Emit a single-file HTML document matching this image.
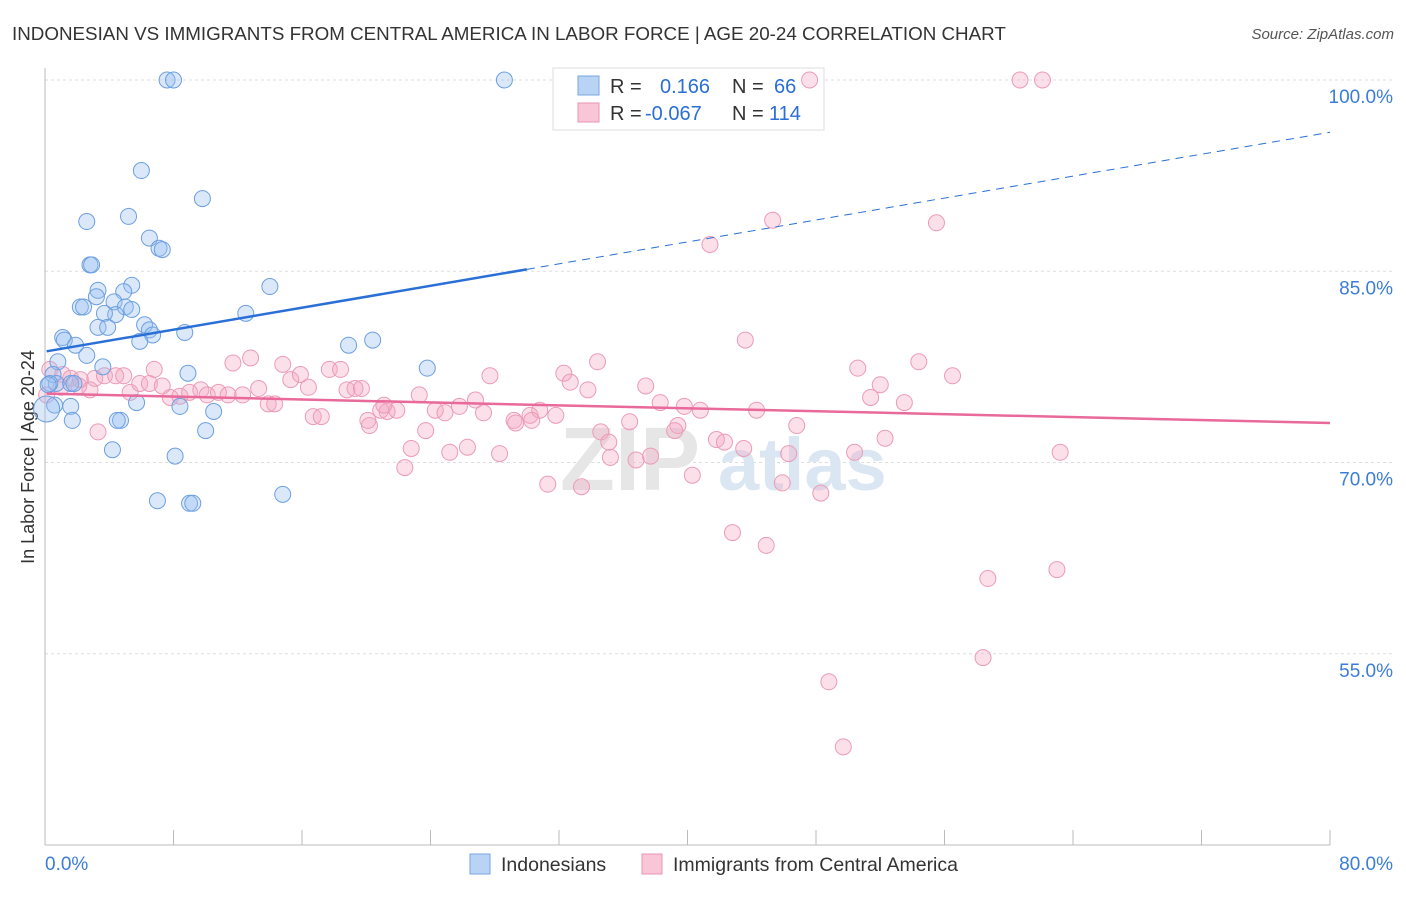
<!DOCTYPE html>
<html><head><meta charset="utf-8"><style>
body{margin:0;background:#fff;font-family:"Liberation Sans",sans-serif}
svg text{font-family:"Liberation Sans",sans-serif}
</style></head><body>
<svg id="chart" width="1406" height="892">
<text x="12" y="40" font-size="18.8" fill="#333">INDONESIAN VS IMMIGRANTS FROM CENTRAL AMERICA IN LABOR FORCE | AGE 20-24 CORRELATION CHART</text>
<text x="1394" y="39" font-size="15" fill="#555" text-anchor="end" font-style="italic">Source: ZipAtlas.com</text>
<text transform="translate(34,457) rotate(-90)" font-size="18" fill="#333" text-anchor="middle">In Labor Force | Age 20-24</text>
<g id="grid"></g>
<text x="560" y="490" font-size="90" fill="#e6e6e6" font-family="Liberation Serif" font-weight="bold">ZIP</text>
<text x="718" y="490" font-size="74" fill="#dbe6f3" font-weight="bold">atlas</text>
<g>
<rect x="553" y="68" width="271" height="62" fill="#fff" stroke="#ddd"/>
<rect x="578" y="76" width="21" height="19" fill="#b8d3f4" stroke="#7aa7e0"/>
<rect x="578" y="103" width="21" height="19" fill="#f8c6d6" stroke="#eb94b0"/>
<text x="610" y="93" font-size="20" fill="#333">R = <tspan fill="#2a6fd6" x="660">0.166</tspan><tspan x="732" fill="#333">N = </tspan><tspan fill="#2a6fd6" x="774">66</tspan></text>
<text x="610" y="120" font-size="20" fill="#333">R = <tspan fill="#2a6fd6" x="645">-0.067</tspan><tspan x="732" fill="#333">N = </tspan><tspan fill="#2a6fd6" x="769">114</tspan></text>
</g>
<g id="marks"></g>
<g>
<rect x="470" y="854" width="20" height="20" fill="#b8d3f4" stroke="#7aa7e0"/>
<text x="501" y="871" font-size="19.5" fill="#333">Indonesians</text>
<rect x="642" y="854" width="20" height="20" fill="#f8c6d6" stroke="#eb94b0"/>
<text x="673" y="871" font-size="19.5" fill="#333">Immigrants from Central America</text>
</g>
</svg>
<script>
const yTicks=[100,85,70,55];
const xLabels=["0.0%","80.0%"];
const blueX=[7.6,8.0,28.6,6.0,9.8,2.6,5.2,6.5,7.1,7.3,2.8,2.9,14.0,5.4,3.3,4.9,3.2,2.2,2.4,4.3,5.0,5.4,4.4,3.7,12.5,3.3,3.9,6.2,6.5,6.7,8.7,1.1,1.2,1.9,5.9,18.9,20.4,2.6,0.8,3.6,8.9,23.8,0.5,0.7,1.6,0.3,0.2,1.8,1.6,0.6,5.7,8.4,10.5,1.7,4.7,4.5,10.0,4.2,8.1,7.0,9.0,9.2,14.8,0.1];
const blueY=[100,100,100,92.9,90.7,88.9,89.3,87.6,86.8,86.7,85.5,85.5,83.8,83.9,83.5,83.4,83.0,82.2,82.2,82.6,82.2,82.0,81.6,81.7,81.7,80.6,80.6,80.8,80.4,80.0,80.2,79.8,79.6,79.2,79.5,79.2,79.6,78.4,77.9,77.5,77.0,77.4,76.9,76.2,76.2,76.2,76.1,76.2,74.4,74.5,74.7,74.4,74.0,73.3,73.3,73.3,72.5,71.0,70.5,67.0,66.8,66.8,67.5,74.2];
const pinkX=[47.6,60.7,62.1,45.3,55.5,41.4,43.6,34.4,54.4,56.5,50.6,32.3,27.7,32.7,37.4,52.0,33.8,51.4,53.5,38.3,44.3,39.8,40.8,26.8,25.8,23.3,24.3,24.9,21.3,21.9,20.2,23.7,27.3,29.2,30.2,30.8,31.8,29.3,30.3,36.4,39.4,41.8,42.3,46.8,52.3,34.6,35.1,39.2,35.2,36.8,37.7,43.5,46.3,50.4,63.2,28.3,26.3,25.2,22.8,22.4,31.3,33.4,40.3,45.9,48.3,42.8,44.9,58.7,63.0,58.4,48.8,49.7,0.3,1.1,1.6,2.2,3.1,3.7,4.4,4.9,2.8,3.3,5.3,5.9,6.5,6.8,7.3,7.8,8.4,9.0,9.7,10.1,10.8,11.4,11.7,12.3,12.8,13.3,13.9,14.3,14.8,15.3,15.9,16.4,16.7,17.2,17.7,18.4,18.8,19.3,19.7,20.1,20.9,21.1,1.0,0.1,2.1];
const pinkY=[100,100,100,89.0,88.8,87.1,79.6,77.9,77.9,76.8,77.4,77.0,76.8,76.3,76.0,76.1,75.7,75.1,74.7,74.7,74.1,74.4,74.1,74.9,74.4,75.3,74.1,73.9,74.0,74.1,72.9,72.5,73.9,73.3,73.7,74.1,73.7,73.1,73.3,73.2,72.9,71.8,71.6,72.9,71.9,72.4,71.6,72.5,70.4,70.2,70.5,71.1,70.7,70.8,70.8,70.7,71.2,70.8,71.1,69.6,68.3,68.1,69.0,68.4,67.6,64.5,63.5,60.9,61.6,54.7,52.8,47.7,77.3,76.9,76.6,76.5,76.6,76.8,76.8,76.8,75.7,72.4,75.5,76.2,76.2,77.3,76.0,75.1,75.2,75.5,75.7,75.3,75.5,75.3,77.8,75.3,78.2,75.8,74.6,74.6,77.7,76.5,76.9,75.9,73.6,73.6,77.3,77.3,75.7,75.8,75.8,73.3,74.1,74.5,75.9,75.3,76.0];
const blueTrend=[78.7,95.9];
const pinkTrend=[75.4,73.1];
const X=v=>45+v*(1285/80);
const Y=v=>80+(100-v)*12.75;
const NS="http://www.w3.org/2000/svg";
function mk(t,a,p){const e=document.createElementNS(NS,t);for(const k in a)e.setAttribute(k,a[k]);p.appendChild(e);return e;}
const grid=document.getElementById('grid');
yTicks.forEach(t=>{
 const l=mk('line',{x1:45,x2:1394,y1:Y(t),y2:Y(t),stroke:'#ddd','stroke-dasharray':'3,3'},grid);
 
 
 const tx=mk('text',{x:1393,y:Y(t)+23,'font-size':19,fill:'#3b7dd8','text-anchor':'end'},grid);
 tx.textContent=t.toFixed(1)+'%';
 
 
});
const ax=mk('line',{x1:45,x2:1330,y1:845,y2:845,stroke:'#bbb'},grid);


const ay=mk('line',{x1:45,x2:45,y1:68,y2:845,stroke:'#bbb'},grid);


for(let i=0;i<=10;i++){const tk=mk('line',{x1:X(i*8),x2:X(i*8),y1:830,y2:845,stroke:'#bbb'},grid);
 
 }
[[xLabels[0],45,'start'],[xLabels[1],1393,'end']].forEach(([s,x,a])=>{const t=mk('text',{x:x,y:870,'font-size':19,fill:'#3b7dd8','text-anchor':a},grid);t.textContent=s;
 
 });
const marks=document.getElementById('marks');
pinkX.forEach((x,i)=>{const c=mk('circle',{cx:X(x),cy:Y(pinkY[i]),r:8,fill:'rgba(244,167,194,0.35)',stroke:'#ec9bb6','stroke-width':1},marks);
 
 });
blueX.forEach((x,i)=>{const c=mk('circle',{cx:X(x),cy:Y(blueY[i]),r:i==blueX.length-1?13:8,fill:'rgba(150,190,240,0.35)',stroke:'#6d9fe0','stroke-width':1},marks);
 
 });
const bAt=v=>blueTrend[0]+(blueTrend[1]-blueTrend[0])*v/80;
const b1=mk('line',{x1:X(0.1),y1:Y(bAt(0.1)),x2:X(30),y2:Y(bAt(30)),stroke:'#2a6fd6','stroke-width':2.5},marks);


const b2=mk('line',{x1:X(30),y1:Y(bAt(30)),x2:X(80),y2:Y(bAt(80)),stroke:'#2a6fd6','stroke-width':1,'stroke-dasharray':'8,6'},marks);


const p1=mk('line',{x1:X(0.1),y1:Y(pinkTrend[0]),x2:X(80),y2:Y(pinkTrend[1]),stroke:'#e8699a','stroke-width':2.5},marks);


</script>
</body></html>
